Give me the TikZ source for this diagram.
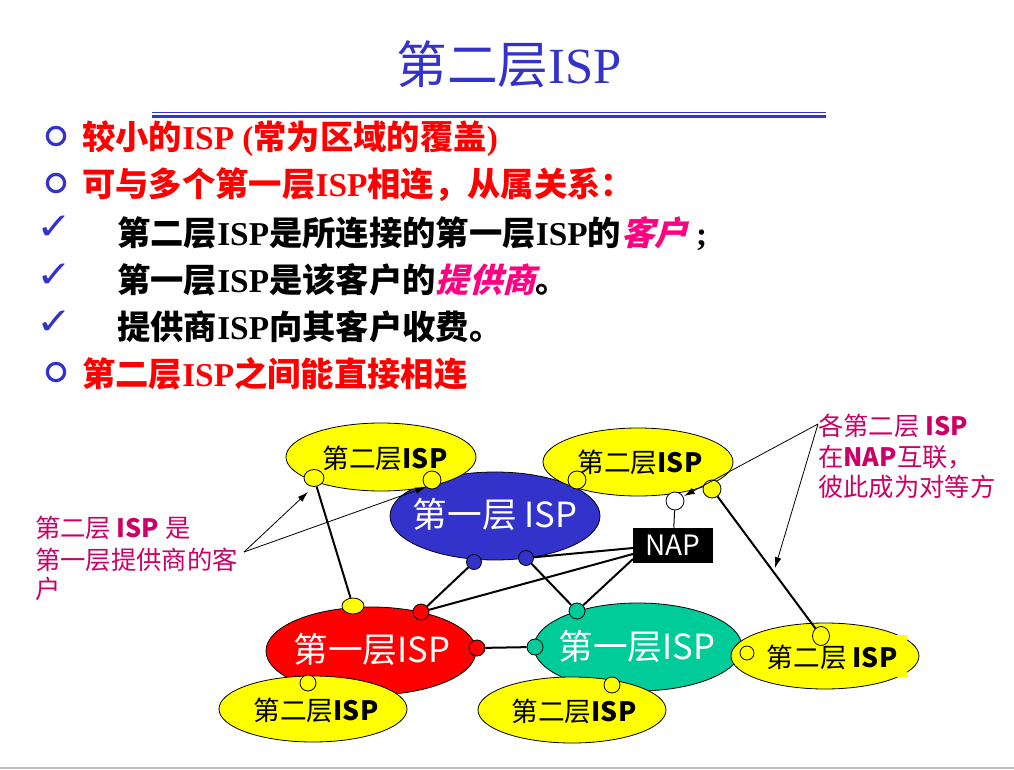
\documentclass[tikz,border=0pt]{standalone}
\usepackage{fontspec}
\setmainfont{Liberation Serif}
\newfontfamily\cjk{Noto Sans CJK SC}
\newfontfamily\cjksl[FakeSlant=0.25]{Noto Sans CJK SC}
\newfontfamily\dejavu{DejaVu Sans}
\usetikzlibrary{shapes.geometric,arrows.meta}
\definecolor{titleblue}{HTML}{3333CC}
\definecolor{tierblue}{HTML}{3333CC}
\definecolor{tiergreen}{HTML}{00CC99}
\definecolor{tierred}{HTML}{FF0000}
\definecolor{tieryellow}{HTML}{FFFF00}
\definecolor{hotpink}{HTML}{FF0080}
\definecolor{annmag}{HTML}{CC0066}
\newcommand\ls[1]{{\rmfamily\bfseries #1}}
\begin{document}
\begin{tikzpicture}[x=0.75pt,y=-0.75pt,
  ell/.style={ellipse,draw=black,line width=0.6pt,inner sep=0pt},
  esz/.style 2 args={minimum width={#1*1.5pt},minimum height={#2*1.5pt}},
  dotc/.style 2 args={circle,draw=black,line width=0.6pt,inner sep=0pt,minimum size={#1*1.5pt},fill=#2},
  dote/.style n args={3}{ellipse,draw=black,line width=0.6pt,inner sep=0pt,minimum width={#1*1.5pt},minimum height={#2*1.5pt},fill=#3},
  link/.style={line width=1.5pt},
  thinlink/.style={line width=0.75pt},
  arr/.style={line width=0.6pt,-{Latex[length=8pt,width=5pt]}},
  bul/.style={circle,draw=titleblue,line width=2.4pt,inner sep=0pt,minimum size=13pt},
  chk/.style={inner sep=0pt,text=titleblue,font=\dejavu\fontsize{28}{30}\selectfont,xscale=1.15},
  row/.style={anchor=base west,inner sep=0pt,font=\cjk\bfseries\fontsize{25}{30}\selectfont},
  t1text/.style={inner sep=0pt,text=white,font=\cjk\fontsize{26}{30}\selectfont},
  t2text/.style={inner sep=0pt,text=black,font=\cjk\fontsize{20}{24}\selectfont},
  napbox/.style={rectangle,fill=black,inner sep=0pt,minimum width=60pt,minimum height=26.25pt,text=white,font=\cjk\fontsize{21}{24}\selectfont},
  ann/.style={anchor=base west,inner sep=0pt,text=annmag,font=\cjk\fontsize{19}{22}\selectfont}
]
\useasboundingbox (0,0) rectangle (1014,770);
\fill[white] (0,0) rectangle (1014,770);

% title
\node[anchor=base,inner sep=0pt,text=titleblue,font=\fontsize{38}{44}\selectfont] (title) at (509,84) {{\cjk 第二层}ISP};
\draw[titleblue,line width=0.75pt] (152,113) -- (826,113);
\draw[titleblue,line width=2pt] (152,116.4) -- (826,116.4);

% bullets
\node[bul] (b1) at (56,136) {};
\node[bul] (b2) at (56,183) {};
\node[chk] (k1) at (54,228) {✓};
\node[chk] (k2) at (54,276) {✓};
\node[chk] (k3) at (54,323) {✓};
\node[bul] (b6) at (56,372) {};

\node[row,text=red] (r1) at (82,150) {较小的\ls{ISP (}常为区域的覆盖\ls{)}};
\node[row,text=red] (r2) at (82,197) {可与多个第一层\ls{ISP}相连，从属关系：};
\node[row,text=black] (r3) at (117,245) {第二层\ls{ISP}是所连接的第一层\ls{ISP}的{\cjksl\bfseries\color{hotpink}客户}\ls{\ ;}};
\node[row,text=black] (r4) at (117,292) {第一层\ls{ISP}是该客户的{\cjksl\bfseries\color{hotpink}提供商}。};
\node[row,text=black] (r5) at (117,339) {提供商\ls{ISP}向其客户收费。};
\node[row,text=red] (r6) at (82,386) {第二层\ls{ISP}之间能直接相连};

% tier-1 ISPs
\node[ell,esz={105}{44},fill=tierblue] (t1b) at (495,516) {};
\node[ell,esz={105}{44},fill=tierred] (t1r) at (371,651) {};
\node[ell,esz={104}{44},fill=tiergreen] (t1g) at (638,647) {};
% tier-2 ISPs
\node[ell,esz={95}{34},fill=tieryellow] (t2a) at (381,457) {};
\node[ell,esz={95}{34},fill=tieryellow] (t2b) at (638,462) {};
\node[ell,esz={94}{33},fill=tieryellow] (t2c) at (313,709) {};
\node[ell,esz={94}{33},fill=tieryellow] (t2d) at (572,710) {};
\node[ell,esz={94}{33},fill=tieryellow] (t2e) at (825,656) {};
\fill[tieryellow] (882,635) rectangle (907,677);

% labels
\node[t1text] (l1b) at (495,514) {第一层 ISP};
\node[t1text] (l1r) at (372,649) {第一层ISP};
\node[t1text] (l1g) at (637,646) {第一层ISP};
\node[t2text] (l2a) at (385,458) {第二层\textbf{ISP}};
\node[t2text] (l2b) at (640,462) {第二层\textbf{ISP}};
\node[t2text] (l2c) at (316,710) {第二层\textbf{ISP}};
\node[t2text] (l2d) at (574,711) {第二层\textbf{ISP}};
\node[t2text] (l2e) at (832,657) {第二层 \textbf{ISP}};

% NAP
\node[napbox] (nap) at (673,545.5) {NAP};
\coordinate (n1) at (633,548);
\coordinate (n2) at (633,554);
\coordinate (n3) at (633,559);

% small connection points
\node[dote={10}{8.5}{tieryellow}] (ca1) at (314,478) {};
\node[dotc={9}{tieryellow}] (ca2) at (432,480) {};
\node[dotc={7.5}{tierblue}] (cb1) at (474,562) {};
\node[dotc={7.5}{tierblue}] (cb2) at (526,558) {};
\node[dotc={9}{tieryellow}] (cy1) at (577,480) {};
\node[dotc={9}{tieryellow}] (cy2) at (712,489) {};
\node[dotc={9}{white}] (cw) at (675,501) {};
\node[dote={11}{8}{tieryellow}] (cr0) at (353,606) {};
\node[dotc={8}{tierred}] (cr1) at (421,612) {};
\node[dotc={8}{tierred}] (cr2) at (477,648) {};
\node[dotc={8}{tiergreen}] (cg1) at (577,611) {};
\node[dotc={8}{tiergreen}] (cg2) at (535,647) {};
\node[dotc={8}{tieryellow}] (cc) at (308,683) {};
\node[dotc={8}{tieryellow}] (cd) at (612,685) {};
\node[dote={8.5}{9.5}{tieryellow}] (ce1) at (821,636) {};
\node[dotc={7}{tieryellow}] (ce2) at (747,653) {};

% links
\draw[link] (ca1) -- (cr0);
\draw[link] (cb1) -- (cr1);
\draw[link] (cb2) -- (cg1);
\draw[link] (cr2) -- (cg2);
\draw[link] (cy2) -- (ce1);
\draw[link] (cb2) -- (n1);
\draw[link] (cr1) -- (n2);
\draw[link] (cg1) -- (n3);
\draw[thinlink] (cw) -- (nap);

% annotations
\node[ann] (al1) at (35,537) {第二层 \textbf{ISP} 是};
\node[ann] (al2) at (35,569) {第一层提供商的客};
\node[ann] (al3) at (35,598) {户};
\node[ann] (ar1) at (818,435) {各第二层 \textbf{ISP}};
\node[ann] (ar2) at (818,466) {在\textbf{NAP}互联，};
\node[ann] (ar3) at (818,496) {彼此成为对等方};

\coordinate (la) at (244,552);
\coordinate (la1) at (308,492);
\coordinate (la2) at (426,487);
\coordinate (ra) at (818,424);
\coordinate (ra1) at (684,496);
\coordinate (ra2) at (775,568);
\draw[arr] (la) -- (la1);
\draw[arr] (la) -- (la2);
\draw[arr] (ra) -- (ra1);
\draw[arr] (ra) -- (ra2);

% bottom rule
\draw[black!25,line width=1.5pt] (0,768) -- (1014,768);
\end{tikzpicture}
\end{document}
